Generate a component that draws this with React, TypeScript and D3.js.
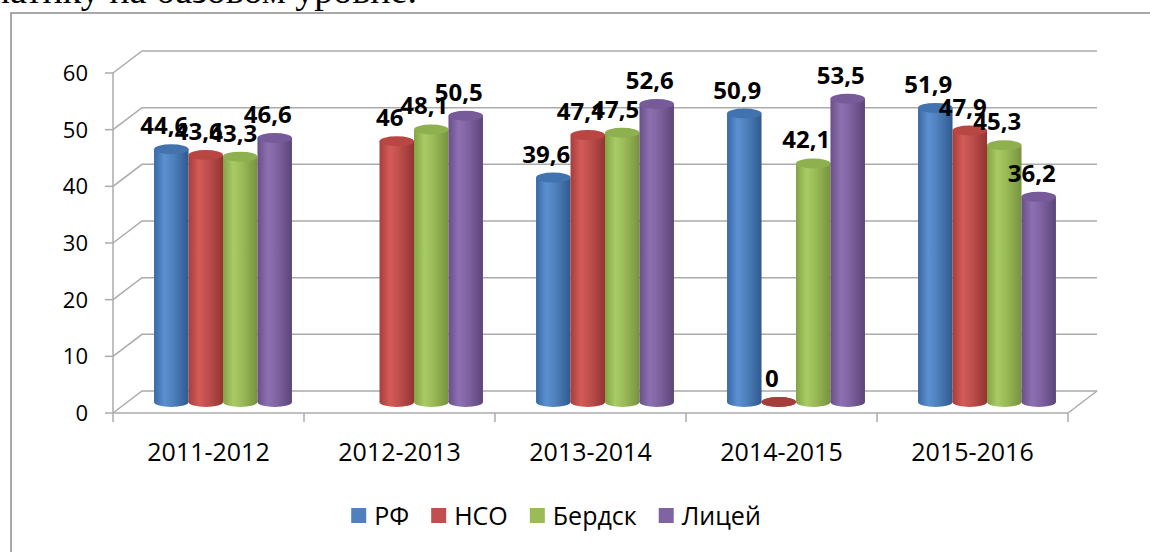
import React, { useEffect, useRef } from 'react';
import * as d3 from 'd3';

const categories = ['2011-2012', '2012-2013', '2013-2014', '2014-2015', '2015-2016'];
const seriesNames = ['РФ', 'НСО', 'Бердск', 'Лицей'];
const rfValues = [44.6, null, 39.6, 50.9, 51.9];
const nsoValues = [43.6, 46, 47.1, 0, 47.9];
const berdskValues = [43.3, 48.1, 47.5, 42.1, 45.3];
const liceyValues = [46.6, 50.5, 52.6, 53.5, 36.2];
const yTicks = [0, 10, 20, 30, 40, 50, 60];

const seriesValues = [rfValues, nsoValues, berdskValues, liceyValues];

// base / left edge / highlight / right edge / cap
const PALETTE = [
  { base: '#4F81BD', edge: '#3A69A4', light: '#5A90D2', dark: '#30598F', cap: '#4373AF' },
  { base: '#C0504D', edge: '#A53E3B', light: '#D45B58', dark: '#933432', cap: '#B84744' },
  { base: '#9BBB59', edge: '#84A346', light: '#A9CB65', dark: '#76933D', cap: '#8FB04F' },
  { base: '#8064A2', edge: '#694F89', light: '#8D70B1', dark: '#5C4579', cap: '#765A99' },
];

const W = 1150;
const H = 552;
const FRONT = { left: 113, right: 1068, bottom: 413, top: 73 };
const DEPTH = { dx: 29, dy: -22 };
const FONT = '"Open Sans", "Noto Sans", sans-serif';
const GRID = '#ABABAB';

const fmt = (v: number) => String(v).replace('.', ',');

function Legend() {
  const ref = useRef<SVGGElement>(null);
  useEffect(() => {
    const g = d3.select(ref.current);
    const items = g.selectAll<SVGGElement, string>('g.item');
    let x = 0;
    items.each(function () {
      const item = d3.select(this);
      item.attr('transform', `translate(${x},0)`);
      const tw = (item.select('text').node() as SVGTextElement).getComputedTextLength();
      x += 15 + 8 + tw + 22;
    });
    const total = x - 22;
    g.attr('transform', `translate(${556 - total / 2},508)`);
  }, []);
  return (
    <g ref={ref}>
      {seriesNames.map((name, i) => (
        <g className="item" key={name}>
          <rect width={15} height={15} fill={PALETTE[i].base} />
          <text x={23} y={17} fontSize={25} fontFamily={FONT} fill="#000">{name}</text>
        </g>
      ))}
    </g>
  );
}

export default function App() {
  const y = d3.scaleLinear().domain([0, 60]).range([FRONT.bottom, FRONT.top]);
  const x0 = d3.scaleBand<string>().domain(categories).range([FRONT.left, FRONT.right]).paddingInner(0).paddingOuter(0);
  const x1 = d3.scaleBand<string>().domain(seriesNames).range([0, x0.bandwidth()]).paddingInner(0).paddingOuter(0.77);
  const bw = x1.bandwidth();
  const rx = bw / 2;
  const ry = 5;
  const midDx = DEPTH.dx / 2;
  const midDy = DEPTH.dy / 2;

  const bars: { cat: number; s: number; v: number }[] = [];
  categories.forEach((_, ci) => {
    seriesValues.forEach((vals, si) => {
      const v = vals[ci];
      if (v !== null && v !== undefined) bars.push({ cat: ci, s: si, v });
    });
  });

  const bx = (b: { cat: number; s: number }) => (x0(categories[b.cat]) as number) + (x1(seriesNames[b.s]) as number) + midDx;
  const base = y(0) + midDy;
  const topY = (v: number) => y(v) + midDy;

  return (
    <div style={{ position: 'absolute', left: 0, top: 0 }}>
      <svg width={W} height={H} style={{ display: 'block', background: '#fff' }}>
        <defs>
          {PALETTE.map((p, i) => (
            <linearGradient key={i} id={`cyl${i}`} x1="0" x2="1" y1="0" y2="0">
              <stop offset="0%" stopColor={p.edge} />
              <stop offset="30%" stopColor={p.light} />
              <stop offset="55%" stopColor={p.base} />
              <stop offset="100%" stopColor={p.dark} />
            </linearGradient>
          ))}
        </defs>

        {/* cut-off paragraph above the chart */}
        <text x={417} y={3} textAnchor="end" fontSize={38} fontFamily='"Liberation Serif", "Times New Roman", serif' fill="#000">
          математику на базовом уровне.
        </text>

        {/* chart area border */}
        <rect x={11} y={13} width={1200} height={600} fill="none" stroke="#8C8C8C" strokeWidth={1.5} />

        {/* side wall diagonals + back wall gridlines */}
        <g stroke={GRID} strokeWidth={1.5} fill="none">
          {yTicks.map(t => (
            <polyline
              key={t}
              points={`${FRONT.left},${y(t)} ${FRONT.left + DEPTH.dx},${y(t) + DEPTH.dy} ${FRONT.right + DEPTH.dx},${y(t) + DEPTH.dy}`}
            />
          ))}
          {/* floor right edge */}
          <line x1={FRONT.right} y1={y(0)} x2={FRONT.right + DEPTH.dx} y2={y(0) + DEPTH.dy} />
        </g>

        {/* value axis */}
        <g stroke={GRID} strokeWidth={1.5}>
          <line x1={FRONT.left} x2={FRONT.left} y1={y(60)} y2={y(0)} />
          {yTicks.map(t => (
            <line key={t} x1={FRONT.left - 8} x2={FRONT.left} y1={y(t)} y2={y(t)} />
          ))}
          <line x1={FRONT.left} x2={FRONT.right} y1={y(0)} y2={y(0)} />
          {categories.map(c => (
            <line key={c} x1={x0(c)} x2={x0(c)} y1={y(0)} y2={y(0) + 9} />
          ))}
          <line x1={FRONT.right} x2={FRONT.right} y1={y(0)} y2={y(0) + 9} />
        </g>

        {yTicks.map(t => (
          <text key={t} x={88} y={y(t) + 8} textAnchor="end" fontSize={22} fontFamily={FONT} fill="#000">
            {t}
          </text>
        ))}

        {categories.map(c => (
          <text key={c} x={(x0(c) as number) + x0.bandwidth() / 2} y={461} textAnchor="middle" fontSize={25} fontFamily={FONT} fill="#000">
            {c}
          </text>
        ))}

        {/* cylinders */}
        {bars.map((b, i) => {
          const left = bx(b);
          const cx = left + rx;
          const ty = topY(b.v);
          const p = PALETTE[b.s];
          return (
            <g key={i}>
              <ellipse cx={cx} cy={base} rx={rx} ry={ry} fill={`url(#cyl${b.s})`} />
              <rect x={left} y={ty} width={bw} height={base - ty} fill={`url(#cyl${b.s})`} />
              <ellipse cx={cx} cy={ty} rx={rx} ry={ry} fill={b.v === 0 ? p.edge : p.cap} />
            </g>
          );
        })}

        {/* data labels */}
        {bars.map((b, i) => (
          <text
            key={i}
            x={bx(b) + rx - 7}
            y={topY(b.v) - 15}
            textAnchor="middle"
            fontSize={24}
            fontWeight="bold"
            fontFamily={FONT}
            fill="#000"
          >
            {fmt(b.v)}
          </text>
        ))}

        <Legend />
      </svg>
    </div>
  );
}
